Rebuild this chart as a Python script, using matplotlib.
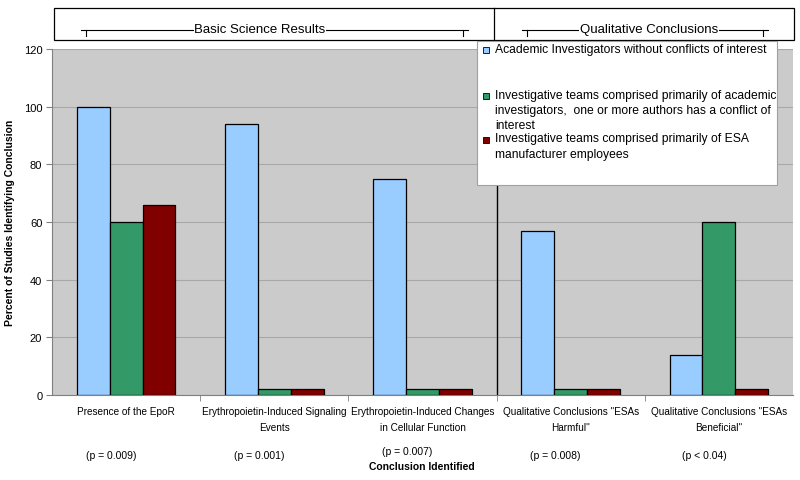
import matplotlib

matplotlib.use("Agg")
import matplotlib.pyplot as plt
import numpy as np
from matplotlib.lines import Line2D
from matplotlib.patches import Rectangle

plt.rcParams["font.family"] = ["Liberation Sans", "DejaVu Sans"]

categories = [
    "Presence of the EpoR",
    "Erythropoietin-Induced Signaling\nEvents",
    "Erythropoietin-Induced Changes\nin Cellular Function",
    "Qualitative Conclusions \"ESAs\nHarmful\"",
    "Qualitative Conclusions \"ESAs\nBeneficial\"",
]
p_values = ["(p = 0.009)", "(p = 0.001)", "(p = 0.007)", "(p = 0.008)", "(p < 0.04)"]
series_names = [
    "Academic Investigators without conflicts of interest",
    "Investigative teams comprised primarily of academic\n"
    "investigators,  one or more authors has a conflict of\ninterest",
    "Investigative teams comprised primarily of ESA\nmanufacturer employees",
]
academic_no_coi = [100, 94, 75, 57, 14]
academic_coi = [60, 2, 2, 2, 60]
manufacturer = [66, 2, 2, 2, 2]
colors = ["#99ccff", "#339966", "#800000"]
y_ticks = [0, 20, 40, 60, 80, 100, 120]

W, H = 800, 481


def fx(px):
    return px / W


def fy(py):
    return 1 - py / H


fig = plt.figure(figsize=(8, 4.81), dpi=100)
ax = fig.add_axes([fx(52), fy(396), fx(793) - fx(52), fy(50) - fy(396)])
ax.set_facecolor("#cbcbcb")

x = np.arange(len(categories))
width = 0.222
for i, vals in enumerate([academic_no_coi, academic_coi, manufacturer]):
    ax.bar(x + (i - 1) * width, vals, width, color=colors[i],
           edgecolor="black", linewidth=0.9, zorder=3)

ax.set_xlim(-0.5, len(categories) - 0.5)
ax.set_ylim(0, 120)
ax.set_yticks(y_ticks)
ax.tick_params(axis="y", labelsize=8, length=4, color="#808080", pad=3)
ax.yaxis.grid(True, color="#a8a8a8", linewidth=0.8, zorder=0)
ax.set_axisbelow(True)

ax.set_xticks(x)
ax.set_xticklabels(categories, fontsize=7.2, linespacing=1.75)
ax.tick_params(axis="x", length=0, pad=8)
ax.set_xticks(np.arange(0.5, len(categories) - 0.5), minor=True)
ax.tick_params(axis="x", which="minor", length=4, color="#808080")

for side in ["top", "right"]:
    ax.spines[side].set_visible(False)
for side in ["left", "bottom"]:
    ax.spines[side].set_color("#808080")

ax.axvline(2.5, color="black", linewidth=1, zorder=2)

ax.set_ylabel("Percent of Studies Identifying Conclusion", fontsize=7.5,
              fontweight="bold", labelpad=6)

# p-values and x label
for i, p in enumerate(p_values):
    xd = fig.transFigure.inverted().transform(ax.transData.transform((i, 0)))[0]
    yy = 452 if i == 2 else 456
    fig.text(xd - fx(15), fy(yy), p, fontsize=7.5, ha="center", va="center")
fig.text(fx(422), fy(467), "Conclusion Identified", fontsize=7.5,
         fontweight="bold", ha="center", va="center")

# header box with brackets
fig.patches.append(Rectangle((fx(54), fy(41)), fx(794) - fx(54), fy(9) - fy(41),
                             transform=fig.transFigure, facecolor="white",
                             edgecolor="black", linewidth=0.9))
fig.lines.append(Line2D([fx(494), fx(494)], [fy(9), fy(41)],
                        transform=fig.transFigure, color="black", linewidth=0.9))
for x0, x1, label, tx in [(86, 463, "Basic Science Results", 260),
                          (527, 763, "Qualitative Conclusions", 649)]:
    fig.lines.append(Line2D([fx(x0 - 5), fx(x1 + 5)], [fy(31), fy(31)],
                            transform=fig.transFigure, color="black", linewidth=0.8))
    for xe in (x0, x1):
        fig.lines.append(Line2D([fx(xe), fx(xe)], [fy(31), fy(37)],
                                transform=fig.transFigure, color="black", linewidth=0.8))
    fig.text(fx(tx), fy(30), label, fontsize=9.5, ha="center", va="center",
             bbox=dict(facecolor="white", edgecolor="none", pad=0.5))

# legend box
fig.patches.append(Rectangle((fx(477), fy(186)), fx(777) - fx(477), fy(42) - fy(186),
                             transform=fig.transFigure, facecolor="white",
                             edgecolor="#a0a0a0", linewidth=0.8, zorder=5))
for name, color, ty in zip(series_names, colors, [51, 97, 141]):
    fig.patches.append(Rectangle((fx(483), fy(ty + 3)), fx(6), fy(0) - fy(6),
                                 transform=fig.transFigure, facecolor=color,
                                 edgecolor="black", linewidth=0.6, zorder=6))
    fig.text(fx(495), fy(ty - 7.5), name, fontsize=8.7, ha="left", va="top",
             linespacing=1.38, zorder=6)

fig.savefig("out.png", dpi=100)
